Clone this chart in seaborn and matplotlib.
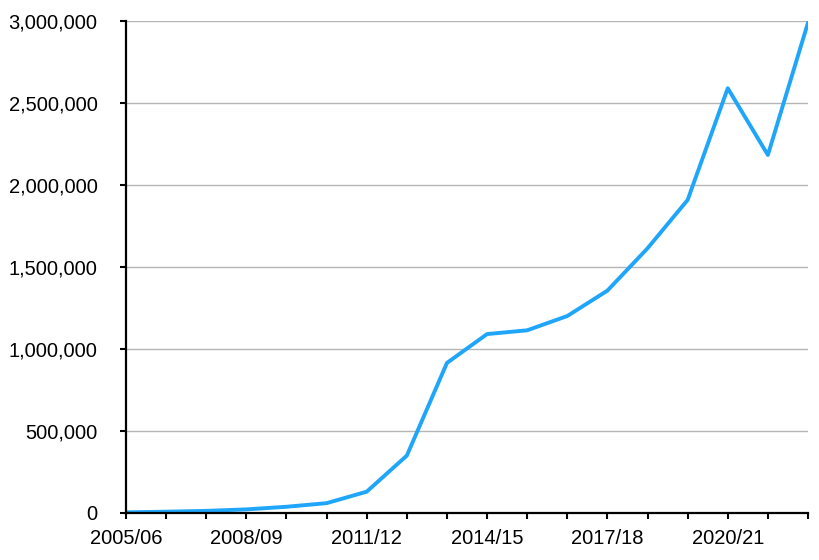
import matplotlib
matplotlib.use("Agg")
import matplotlib.pyplot as plt
import matplotlib.ticker as mticker
import seaborn as sns
import pandas as pd

years = ["2005/06", "2006/07", "2007/08", "2008/09", "2009/10", "2010/11",
         "2011/12", "2012/13", "2013/14", "2014/15", "2015/16", "2016/17",
         "2017/18", "2018/19", "2019/20", "2020/21", "2021/22", "2022/23"]
values = [4000, 8000, 13000, 22000, 38000, 60000,
          130000, 350000, 915000, 1091000, 1114000, 1201000,
          1356000, 1614000, 1909000, 2590000, 2183000, 2990000]

df = pd.DataFrame({"idx": range(len(years)), "value": values})

sns.set_theme(style="white")
plt.rcParams['font.family'] = ['Liberation Sans', 'DejaVu Sans']

fig = plt.figure(figsize=(8.2, 5.6), dpi=100)
ax = fig.add_axes([126/820, 1-513/560, (808-126)/820, (513-21)/560])

sns.lineplot(data=df, x="idx", y="value", ax=ax, color="#1fa6fb", linewidth=2.8)

ax.set_xlim(0, len(years) - 1)
ax.set_ylim(0, 3000000)
ax.set_xticks(range(len(years)))
ax.set_xticklabels([y if i % 3 == 0 else "" for i, y in enumerate(years)])
ax.set_yticks(range(0, 3000001, 500000))
ax.yaxis.set_major_formatter(mticker.FuncFormatter(lambda v, p: f"{int(v):,}"))
ax.grid(axis="y", color="#b5b5b5", linewidth=1)
ax.set_axisbelow(True)
ax.set_xlabel("")
ax.set_ylabel("")
for s in ["top", "right"]:
    ax.spines[s].set_visible(False)
for s in ["left", "bottom"]:
    ax.spines[s].set_color("black")
    ax.spines[s].set_linewidth(1.6)
ax.tick_params(axis="both", which="major", direction="out", length=4.5, width=1.5,
               color="black", labelsize=14.5, labelcolor="black")
ax.tick_params(axis="y", left=True, pad=16)
ax.tick_params(axis="x", bottom=True, pad=7)

fig.savefig("out.png", dpi=100)
